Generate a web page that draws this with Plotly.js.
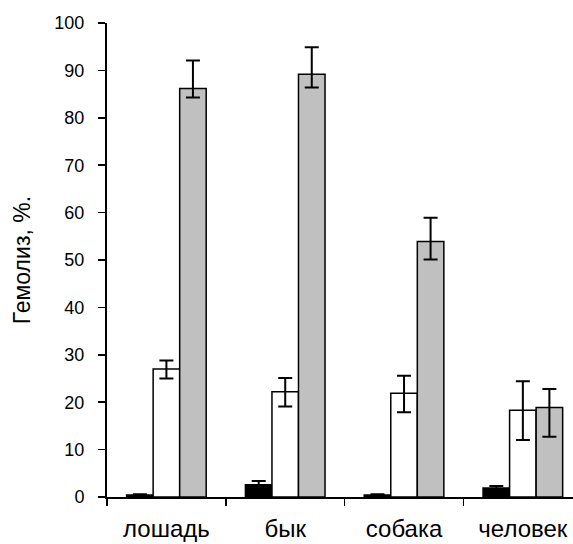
<!DOCTYPE html>
<html>
<head>
<meta charset="utf-8">
<script src="https://cdn.plot.ly/plotly-3.0.1.min.js"></script>
<style>html,body{margin:0;padding:0;background:#fff;overflow:hidden}#chart{width:573px;height:544px}</style>
</head>
<body>
<div id="chart"></div>
<script>
const categories = ['лошадь', 'бык', 'собака', 'человек'];
const blackValues = [0.4, 2.6, 0.4, 1.9];
const blackErrPlus = [0.2, 0.8, 0.2, 0.4];
const blackErrMinus = [0.2, 0.8, 0.2, 0.4];
const whiteValues = [27.0, 22.2, 21.9, 18.3];
const whiteErrPlus = [1.8, 2.9, 3.7, 6.1];
const whiteErrMinus = [2.0, 3.1, 4.0, 6.3];
const greyValues = [86.2, 89.2, 53.9, 18.9];
const greyErrPlus = [5.9, 5.7, 5.0, 3.9];
const greyErrMinus = [1.9, 2.8, 3.8, 6.2];
const yTickVals = [0, 10, 20, 30, 40, 50, 60, 70, 80, 90, 100];
const yTitle = 'Гемолиз, %.';

function bar(y, plus, minus, color) {
  return {
    type: 'bar', x: categories, y: y,
    marker: {color: color, line: {color: '#000', width: 1.5}},
    error_y: {type: 'data', symmetric: false, array: plus, arrayminus: minus,
              color: '#000', thickness: 2, width: 7},
    showlegend: false, hoverinfo: 'none'
  };
}
const data = [
  bar(blackValues, blackErrPlus, blackErrMinus, '#000000'),
  bar(whiteValues, whiteErrPlus, whiteErrMinus, '#ffffff'),
  bar(greyValues, greyErrPlus, greyErrMinus, '#c0c0c0')
];
const layout = {
  width: 573, height: 544,
  margin: {l: 107, r: 0, t: 23, b: 47},
  paper_bgcolor: '#fff', plot_bgcolor: '#fff',
  barmode: 'group', bargap: 0.33, bargroupgap: 0,
  font: {family: 'Liberation Sans, Arial, sans-serif', color: '#000', size: 17},
  xaxis: {
    type: 'category', range: [-0.5, 3.422], tickson: 'boundaries',
    showline: true, linecolor: '#000', linewidth: 2,
    ticks: 'outside', ticklen: 7, tickwidth: 1.5, tickcolor: '#000',
    ticklabelstandoff: 9,
    showgrid: false, zeroline: false, fixedrange: true,
    tickfont: {size: 24}
  },
  yaxis: {
    range: [0, 100], tickvals: yTickVals,
    ticktext: yTickVals.map(v => String(v) + '\u00a0\u00a0'),
    showline: true, linecolor: '#000', linewidth: 2,
    ticks: 'outside', ticklen: 7, tickwidth: 1.5, tickcolor: '#000',
    showgrid: false, zeroline: false, fixedrange: true,
    tickfont: {size: 18}
  },
  annotations: [{
    text: yTitle, textangle: -90, showarrow: false,
    xref: 'paper', yref: 'paper', x: -0.182, y: 0.5,
    xanchor: 'center', yanchor: 'middle',
    font: {size: 23, color: '#000'}
  }]
};
Plotly.newPlot('chart', data, layout, {staticPlot: true, displayModeBar: false});
</script>
</body>
</html>
